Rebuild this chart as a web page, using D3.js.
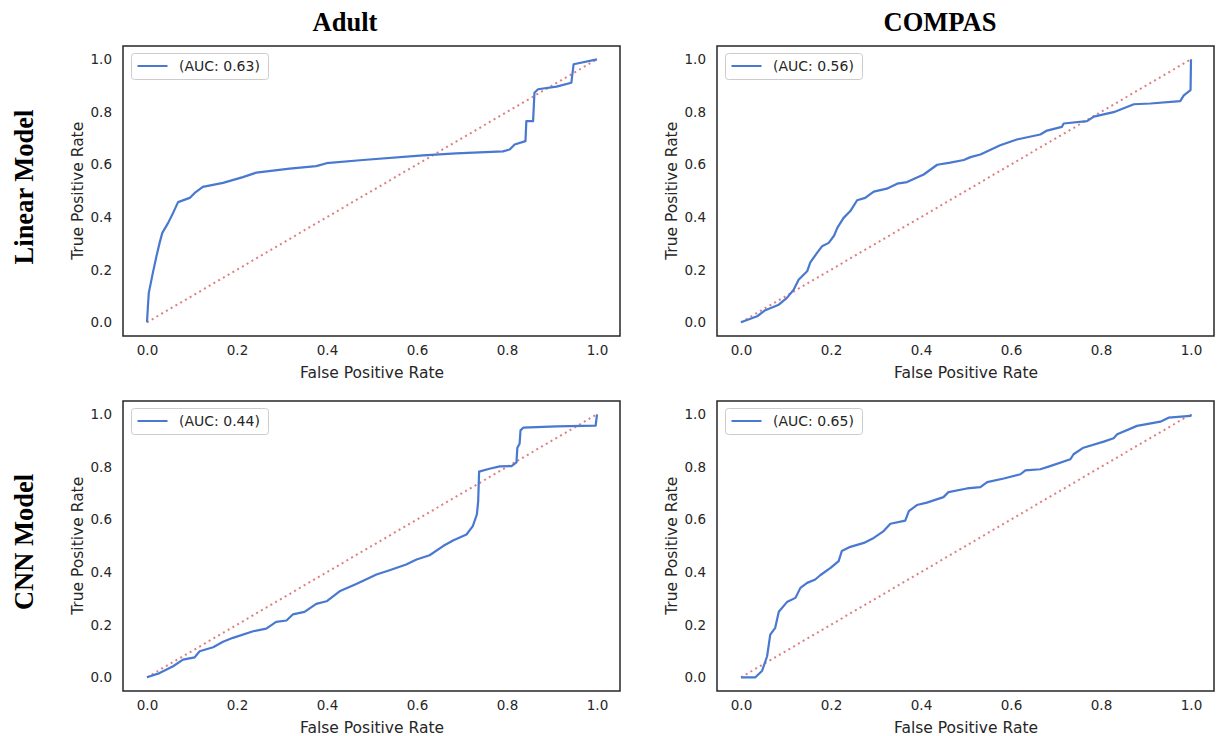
<!DOCTYPE html>
<html>
<head>
<meta charset="utf-8">
<script src="https://cdnjs.cloudflare.com/ajax/libs/d3/7.8.5/d3.min.js"></script>
<style>
    body { margin: 0; background: #fff; }
    text { font-family: "DejaVu Sans", sans-serif; fill: #262626; }
    .big-title { font-family: "Liberation Serif", "Times New Roman", serif; font-weight: bold; fill: #000; }
</style>
</head>
<body>
<div id="chart"></div>
<script>
// 列: 数据集, 行: 模型
const datasets = ['Adult', 'COMPAS'];
const models = ['Linear Model', 'CNN Model'];
const aucLabels = [
    ['(AUC: 0.63)', '(AUC: 0.56)'],
    ['(AUC: 0.44)', '(AUC: 0.65)']
];
const xTicks = [0.0, 0.2, 0.4, 0.6, 0.8, 1.0];
const yTicks = [0.0, 0.2, 0.4, 0.6, 0.8, 1.0];
const chanceLine = [[0, 0], [1, 1]];

// ROC 曲线 [FPR, TPR]
const adultLinear = [
    [0, 0], [0.002, 0.06], [0.004, 0.112], [0.013, 0.188], [0.021, 0.251], [0.028, 0.302], [0.034, 0.340],
    [0.047, 0.378], [0.058, 0.416], [0.069, 0.457], [0.095, 0.473], [0.106, 0.492], [0.124, 0.515],
    [0.169, 0.530], [0.213, 0.552], [0.243, 0.569], [0.317, 0.584], [0.376, 0.594], [0.399, 0.605],
    [0.480, 0.617], [0.613, 0.635], [0.687, 0.642], [0.791, 0.650], [0.806, 0.657], [0.817, 0.676],
    [0.841, 0.689], [0.843, 0.765], [0.858, 0.765], [0.861, 0.873], [0.869, 0.886], [0.910, 0.896],
    [0.943, 0.911], [0.948, 0.981], [1, 1]
];
const compasLinear = [
    [0, 0], [0.036, 0.023], [0.054, 0.046], [0.084, 0.067], [0.102, 0.093], [0.117, 0.124],
    [0.128, 0.162], [0.147, 0.194], [0.154, 0.228], [0.169, 0.264], [0.180, 0.289], [0.195, 0.302],
    [0.207, 0.330], [0.214, 0.359], [0.228, 0.397], [0.243, 0.423], [0.258, 0.464], [0.276, 0.473],
    [0.295, 0.497], [0.324, 0.508], [0.347, 0.527], [0.369, 0.533], [0.406, 0.562], [0.436, 0.599],
    [0.465, 0.607], [0.495, 0.617], [0.510, 0.628], [0.532, 0.638], [0.576, 0.673], [0.613, 0.695],
    [0.665, 0.714], [0.680, 0.729], [0.713, 0.743], [0.717, 0.756], [0.769, 0.765], [0.784, 0.782],
    [0.828, 0.799], [0.873, 0.829], [0.910, 0.832], [0.976, 0.841], [0.984, 0.863], [0.999, 0.883],
    [1, 1]
];
const adultCnn = [
    [0, 0], [0.028, 0.016], [0.058, 0.042], [0.080, 0.067], [0.106, 0.076], [0.117, 0.099],
    [0.147, 0.114], [0.169, 0.135], [0.191, 0.150], [0.236, 0.175], [0.265, 0.185], [0.287, 0.211],
    [0.310, 0.216], [0.324, 0.239], [0.350, 0.249], [0.376, 0.279], [0.399, 0.289], [0.428, 0.327],
    [0.465, 0.355], [0.510, 0.391], [0.539, 0.407], [0.576, 0.429], [0.599, 0.448], [0.628, 0.464],
    [0.658, 0.499], [0.680, 0.520], [0.710, 0.543], [0.724, 0.575], [0.733, 0.619], [0.736, 0.670],
    [0.738, 0.782], [0.761, 0.793], [0.784, 0.802], [0.810, 0.803], [0.821, 0.817], [0.823, 0.873],
    [0.828, 0.888], [0.830, 0.939], [0.836, 0.949], [0.910, 0.954], [0.997, 0.957], [1, 1]
];
const compasCnn = [
    [0, 0], [0.032, 0], [0.047, 0.025], [0.058, 0.080], [0.065, 0.162], [0.076, 0.188],
    [0.084, 0.249], [0.102, 0.286], [0.121, 0.302], [0.132, 0.340], [0.147, 0.359], [0.165, 0.372],
    [0.176, 0.388], [0.199, 0.416], [0.217, 0.442], [0.224, 0.480], [0.243, 0.496], [0.273, 0.511],
    [0.295, 0.530], [0.317, 0.556], [0.332, 0.584], [0.365, 0.596], [0.373, 0.632], [0.391, 0.655],
    [0.413, 0.664], [0.450, 0.685], [0.461, 0.704], [0.502, 0.718], [0.532, 0.723], [0.547, 0.742],
    [0.584, 0.756], [0.621, 0.772], [0.632, 0.787], [0.665, 0.791], [0.687, 0.803], [0.732, 0.829],
    [0.739, 0.848], [0.761, 0.873], [0.806, 0.896], [0.828, 0.909], [0.836, 0.924], [0.880, 0.956],
    [0.932, 0.972], [0.950, 0.987], [0.999, 0.994], [1, 1]
];
const curves = [[adultLinear, compasLinear], [adultCnn, compasCnn]];

class RocGrid {
    constructor(container) {
        this.container = container;
        this.width = 1217;
        this.height = 736;
        this.panelLefts = [123, 717];
        this.panelTops = [46, 401];
        this.panelW = 497;
        this.panelH = 290;
        this.init();
    }

    init() {
        d3.select(this.container).html("");
        this.svg = d3.select(this.container)
            .append("svg")
            .attr("width", this.width)
            .attr("height", this.height);
    }

    render() {
        // 列标题
        const titleX = [345, 940];
        datasets.forEach((name, c) => {
            this.svg.append("text")
                .attr("class", "big-title")
                .attr("x", titleX[c])
                .attr("y", 31)
                .attr("text-anchor", "middle")
                .style("font-size", "26.5px")
                .text(name);
        });

        // 行标题
        models.forEach((name, r) => {
            const cy = this.panelTops[r] + this.panelH / 2;
            this.svg.append("text")
                .attr("class", "big-title")
                .attr("transform", `translate(33,${cy - 4}) rotate(-90)`)
                .attr("text-anchor", "middle")
                .style("font-size", "26.5px")
                .text(name);
        });

        models.forEach((m, r) => {
            datasets.forEach((d, c) => {
                this.drawPanel(r, c);
            });
        });
    }

    drawPanel(r, c) {
        const w = this.panelW, h = this.panelH;
        const g = this.svg.append("g")
            .attr("transform", `translate(${this.panelLefts[c]},${this.panelTops[r]})`);

        const x = d3.scaleLinear().domain([0, 1]).range([24, 474]);
        const y = d3.scaleLinear().domain([0, 1]).range([276.3, 13.3]);

        // 坐标轴 (无刻度线)
        const xAxis = d3.axisBottom(x).tickValues(xTicks).tickSize(0).tickPadding(9)
            .tickFormat(d3.format(".1f"));
        const yAxis = d3.axisLeft(y).tickValues(yTicks).tickSize(0).tickPadding(11)
            .tickFormat(d3.format(".1f"));

        const gx = g.append("g").attr("transform", `translate(0,${h})`).call(xAxis);
        const gy = g.append("g").call(yAxis);
        [gx, gy].forEach(a => {
            a.select(".domain").remove();
            a.selectAll("text")
                .style("font-family", "DejaVu Sans")
                .style("font-size", "13.5px")
                .attr("fill", "#262626");
        });

        g.append("text")
            .attr("x", (x(0) + x(1)) / 2)
            .attr("y", h + 41.5)
            .attr("text-anchor", "middle")
            .style("font-size", "15.5px")
            .text("False Positive Rate");

        g.append("text")
            .attr("transform", `translate(-40,${(y(0) + y(1)) / 2}) rotate(-90)`)
            .attr("text-anchor", "middle")
            .style("font-size", "15.5px")
            .text("True Positive Rate");

        const line = d3.line()
            .x(p => x(p[0]))
            .y(p => y(p[1]));

        // 对角参考线
        g.append("path")
            .datum(chanceLine)
            .attr("d", line)
            .style("fill", "none")
            .style("stroke", "#d65f5f")
            .style("stroke-opacity", 0.8)
            .style("stroke-width", 2)
            .style("stroke-dasharray", "2,3.5");

        g.append("path")
            .datum(curves[r][c])
            .attr("d", line)
            .style("fill", "none")
            .style("stroke", "#4878cf")
            .style("stroke-width", 2.2)
            .style("stroke-linejoin", "round");

        // 边框
        g.append("rect")
            .attr("x", 0).attr("y", 0)
            .attr("width", w).attr("height", h)
            .style("fill", "none")
            .style("stroke", "#262626")
            .style("stroke-width", 1.5);

        // 图例
        const lg = g.append("g").attr("transform", "translate(8.5,7.5)");
        lg.append("rect")
            .attr("width", 137).attr("height", 26)
            .attr("rx", 3)
            .style("fill", "#fff")
            .style("fill-opacity", 0.8)
            .style("stroke", "#cccccc")
            .style("stroke-width", 1);
        lg.append("line")
            .attr("x1", 6).attr("x2", 36)
            .attr("y1", 12.5).attr("y2", 12.5)
            .style("stroke", "#4878cf")
            .style("stroke-width", 2);
        lg.append("text")
            .attr("x", 47.5).attr("y", 12.5)
            .attr("dy", "0.35em")
            .style("font-size", "14px")
            .text(aucLabels[r][c]);
    }
}

const chart = new RocGrid("#chart");
chart.render();
</script>
</body>
</html>
